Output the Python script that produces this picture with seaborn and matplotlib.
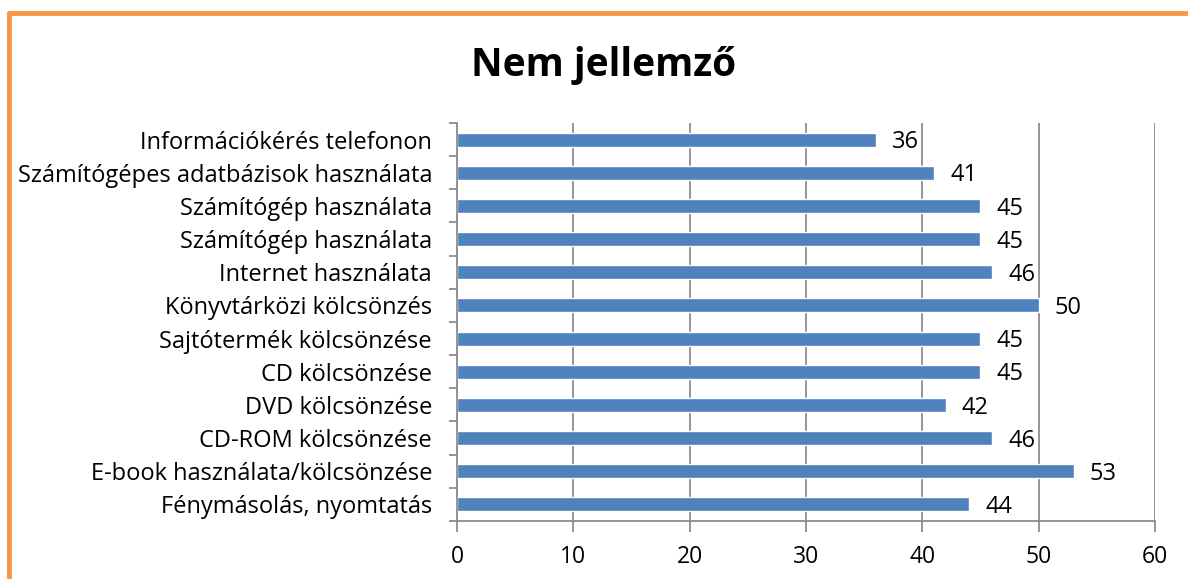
import seaborn as sns
import matplotlib.pyplot as plt
import pandas as pd
from matplotlib.lines import Line2D

# Data (top to bottom)
categories = [
    "Információkérés telefonon",
    "Számítógépes adatbázisok használata",
    "Számítógép használata",
    "Számítógép használata",
    "Internet használata",
    "Könyvtárközi kölcsönzés",
    "Sajtótermék kölcsönzése",
    "CD kölcsönzése",
    "DVD kölcsönzése",
    "CD-ROM kölcsönzése",
    "E-book használata/kölcsönzése",
    "Fénymásolás, nyomtatás",
]
values = [36, 41, 45, 45, 46, 50, 45, 45, 42, 46, 53, 44]
x_ticks = [0, 10, 20, 30, 40, 50, 60]
title = "Nem jellemző"

# unique keys so the repeated label gets its own bar
df = pd.DataFrame({"Key": [f"r{i}" for i in range(len(categories))], "Value": values})

sns.set_theme(style="white")
plt.rcParams["font.family"] = ["Open Sans", "DejaVu Sans"]
plt.rcParams["text.color"] = "black"

fig = plt.figure(figsize=(11.88, 5.79), dpi=100)
ax = fig.add_axes([0.3847, 0.1002, 0.5875, 0.6874])

sns.barplot(data=df, x="Value", y="Key", orient="h", color="#4F81BD",
            saturation=1, width=0.42, ax=ax)

ax.set_xlim(0, 60)
ax.set_xticks(x_ticks)
ax.set_ylim(len(categories) - 0.5, -0.5)
ax.set_yticks(range(len(categories)))
ax.set_yticklabels(categories)
ax.set_xlabel("")
ax.set_ylabel("")

# gridlines
ax.grid(axis="x", color="#8C8C8C", linewidth=1.3)
ax.set_axisbelow(True)
for s in ["top", "right"]:
    ax.spines[s].set_visible(False)
for s in ["left", "bottom"]:
    ax.spines[s].set_color("#8C8C8C")
    ax.spines[s].set_linewidth(1.3)

ax.tick_params(axis="x", length=8, width=1.3, color="#8C8C8C", labelsize=16.5,
               pad=9, bottom=True, labelcolor="black")
ax.tick_params(axis="y", which="major", length=0, labelsize=17, pad=18, labelcolor="black")
ax.set_yticks([i + 0.5 for i in range(-1, len(categories))], minor=True)
ax.tick_params(axis="y", which="minor", length=6, width=1.3, color="#8C8C8C", left=True)

for i, v in enumerate(values):
    ax.text(v + 1.4, i + 0.08, str(v), va="center", ha="left", fontsize=17, color="black")

fig.text(0.508, 1 - 76 / 579, title, ha="center", va="baseline", fontsize=28,
         fontweight="bold", color="black")

# orange frame (cropped at right and bottom)
fig.add_artist(Line2D([0.0073, 0.0073], [0, 0.977], color="#F79646", linewidth=3.5,
                      transform=fig.transFigure))
fig.add_artist(Line2D([0.0073, 1.0], [0.977, 0.977], color="#F79646", linewidth=3.5,
                      transform=fig.transFigure))

fig.savefig("out.png", dpi=100)
